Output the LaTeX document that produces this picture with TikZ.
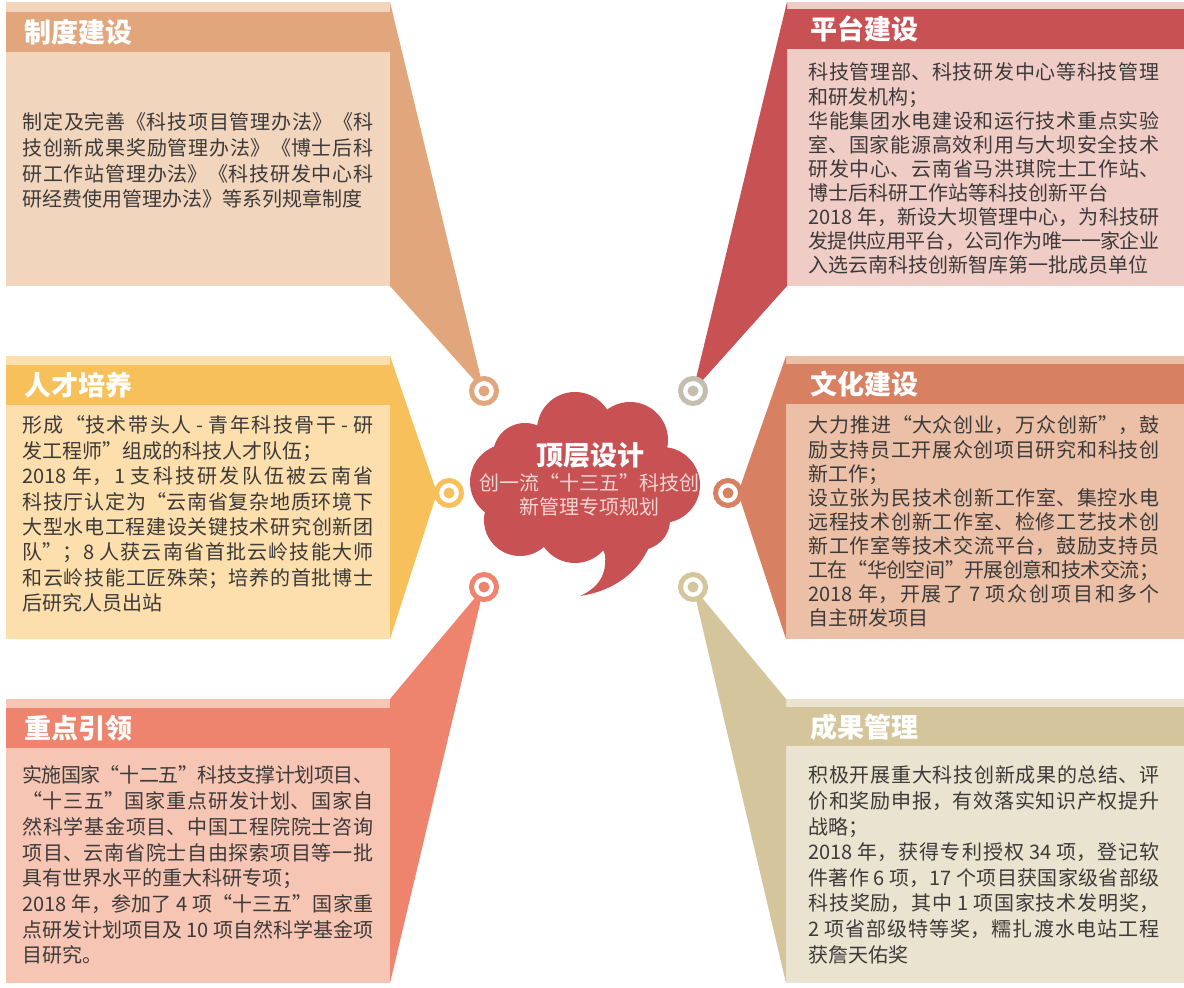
\documentclass[tikz,border=0pt]{standalone}
\usepackage{fontspec}
\setmainfont{Noto Sans CJK SC}
\XeTeXlinebreaklocale "zh"
\XeTeXlinebreakskip=0pt plus 3pt minus 1pt
\definecolor{zdDark}{HTML}{E2A67C}
\definecolor{zdLight}{HTML}{F2D5BD}
\definecolor{ptDark}{HTML}{C85153}
\definecolor{ptLight}{HTML}{F0CCC6}
\definecolor{ptRing}{HTML}{C3BEB0}
\definecolor{rcDark}{HTML}{F8C05B}
\definecolor{rcLight}{HTML}{FCDFAD}
\definecolor{whDark}{HTML}{D88062}
\definecolor{whLight}{HTML}{EBC0A6}
\definecolor{zyDark}{HTML}{EE846E}
\definecolor{zyLight}{HTML}{F6C5B4}
\definecolor{cgDark}{HTML}{D5C59C}
\definecolor{cgLight}{HTML}{EAE3D0}
\definecolor{cloudRed}{HTML}{C85153}
\definecolor{bodyGray}{HTML}{3D3A39}
\definecolor{subPink}{HTML}{F5D6D2}
\begin{document}
\begin{tikzpicture}[x=0.5pt, y=-0.5pt,
  ring node/.style={circle, draw=#1, line width=2.5pt, fill=white, minimum size=12.5pt, inner sep=0pt,
    path picture={\fill[#1] (path picture bounding box.center) circle (2.75pt);}},
  head text/.style={anchor=west, inner sep=0pt, text=white, font=\fontsize{13.5pt}{16pt}\selectfont\bfseries},
  body text/.style={anchor=base west, inner sep=0pt, text=bodyGray, text width=175.5pt, align=justify,
    font=\fontsize{10pt}{#1}\selectfont}]
\useasboundingbox (0,0) rectangle (1184,988);

% 制度建设
\coordinate (zd c) at (484,391);
\fill[zdLight] (6,2) rectangle (390,286);
\fill[zdDark] (6,12) rectangle (390,52);
\fill[zdDark] (390,2) -- (zd c) -- (390,286) -- cycle;
% 平台建设
\coordinate (pt c) at (693,391);
\fill[ptLight] (787,2) rectangle (1184,286);
\fill[ptDark] (787,9) rectangle (1184,49);
\fill[ptDark] (787,2) -- (pt c) -- (787,286) -- cycle;
% 人才培养
\coordinate (rc c) at (449,493);
\coordinate (rc t) at (437,493);
\fill[rcLight] (6,356) rectangle (390,639);
\fill[rcDark] (6,365) rectangle (390,405);
\fill[rcDark] (390,356) -- (rc t) -- (390,639) -- cycle;
% 文化建设
\coordinate (wh c) at (728,493);
\coordinate (wh t) at (738,493);
\fill[whLight] (786,356) rectangle (1184,639);
\fill[whDark] (786,364) rectangle (1184,404);
\fill[whDark] (786,356) -- (wh t) -- (786,639) -- cycle;
% 重点引领
\coordinate (zy c) at (484,587);
\fill[zyLight] (6,699) rectangle (390,983);
\fill[zyDark] (6,708) rectangle (390,748);
\fill[zyDark] (390,699) -- (zy c) -- (390,983) -- cycle;
% 成果管理
\coordinate (cg c) at (693,587);
\fill[cgLight] (786,699) rectangle (1184,983);
\fill[cgDark] (786,707) rectangle (1184,746);
\fill[cgDark] (786,699) -- (cg c) -- (786,983) -- cycle;

% rings
\node[ring node=zdDark] (zd ring) at (zd c) {};
\node[ring node=ptRing] (pt ring) at (pt c) {};
\node[ring node=rcDark] (rc ring) at (rc c) {};
\node[ring node=whDark] (wh ring) at (wh c) {};
\node[ring node=zyDark] (zy ring) at (zy c) {};
\node[ring node=cgDark] (cg ring) at (cg c) {};

% cloud
\fill[cloudRed] (585,487) ellipse [x radius=42.5pt, y radius=25pt];
\fill[cloudRed] (575,430) circle (19pt) (630,440) circle (19pt) (662,485) circle (19pt)
  (640,520) circle (15pt) (575,525) circle (19pt) (520,520) circle (18pt)
  (508,482) circle (19pt) (525,455) circle (16pt);
\fill[cloudRed] (590,515) -- (605,555) .. controls (607,575) and (598,588) .. (580,596)
  .. controls (620,590) and (648,565) .. (655,528) -- (640,505) -- cycle;
\node[inner sep=0pt, text=white, font=\fontsize{13.5pt}{16pt}\selectfont\bfseries] (ding) at (590,455) {顶层设计};
\node[inner sep=0pt, text=subPink, align=center, font=\fontsize{10pt}{12pt}\selectfont] (gui) at (589,495)
  {创一流“十三五”科技创\\新管理专项规划};

% headers
\node[head text] (zd head) at (24,32) {制度建设};
\node[head text] (pt head) at (810,29) {平台建设};
\node[head text] (rc head) at (24,385) {人才培养};
\node[head text] (wh head) at (810,384) {文化建设};
\node[head text] (zy head) at (24,728) {重点引领};
\node[head text] (cg head) at (810,727) {成果管理};

% texts
\node[body text=12.8pt] (zd text) at (22,130) {%
制定及完善《科技项目管理办法》《科\linebreak
技创新成果奖励管理办法》《博士后科\linebreak
研工作站管理办法》《科技研发中心科\linebreak
研经费使用管理办法》等系列规章制度};
\node[body text=12.05pt] (pt text) at (808,80) {%
科技管理部、科技研发中心等科技管理\linebreak
和研发机构；\par
华能集团水电建设和运行技术重点实验\linebreak
室、国家能源高效利用与大坝安全技术\linebreak
研发中心、云南省马洪琪院士工作站、\linebreak
博士后科研工作站等科技创新平台\par
2018 年，新设大坝管理中心，为科技研\linebreak
发提供应用平台，公司作为唯一一家企业\linebreak
入选云南科技创新智库第一批成员单位};
\node[body text=12.7pt] (rc text) at (22,433) {%
形成“技术带头人 - 青年科技骨干 - 研\linebreak
发工程师”组成的科技人才队伍；\par
2018 年，1 支科技研发队伍被云南省\linebreak
科技厅认定为“云南省复杂地质环境下\linebreak
大型水电工程建设关键技术研究创新团\linebreak
队”；8 人获云南省首批云岭技能大师\linebreak
和云岭技能工匠殊荣；培养的首批博士\linebreak
后研究人员出站};
\node[body text=12.05pt] (wh text) at (808,433) {%
大力推进“大众创业，万众创新”，鼓\linebreak
励支持员工开展众创项目研究和科技创\linebreak
新工作；\par
设立张为民技术创新工作室、集控水电\linebreak
远程技术创新工作室、检修工艺技术创\linebreak
新工作室等技术交流平台，鼓励支持员\linebreak
工在“华创空间”开展创意和技术交流；\par
2018 年，开展了 7 项众创项目和多个\linebreak
自主研发项目};
\node[body text=12.85pt] (zy text) at (22,783) {%
实施国家“十二五”科技支撑计划项目、\linebreak
“十三五”国家重点研发计划、国家自\linebreak
然科学基金项目、中国工程院院士咨询\linebreak
项目、云南省院士自由探索项目等一批\linebreak
具有世界水平的重大科研专项；\par
2018 年，参加了 4 项“十三五”国家重\linebreak
点研发计划项目及 10 项自然科学基金项\linebreak
目研究。};
\node[body text=12.8pt] (cg text) at (808,783) {%
积极开展重大科技创新成果的总结、评\linebreak
价和奖励申报，有效落实知识产权提升\linebreak
战略；\par
2018 年，获得专利授权 34 项，登记软\linebreak
件著作 6 项，17 个项目获国家级省部级\linebreak
科技奖励，其中 1 项国家技术发明奖，\linebreak
2 项省部级特等奖，糯扎渡水电站工程\linebreak
获詹天佑奖};
\end{tikzpicture}
\end{document}
